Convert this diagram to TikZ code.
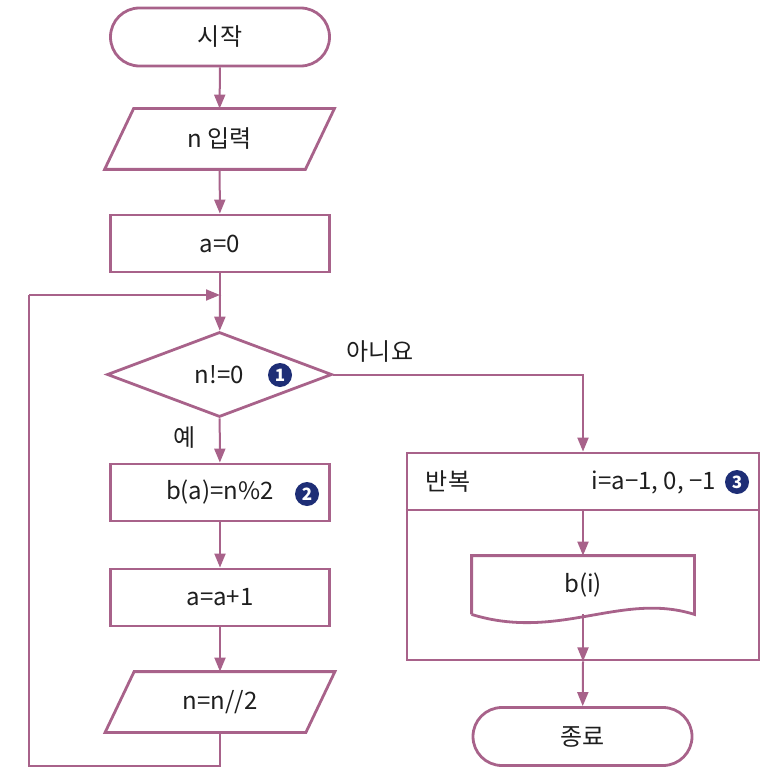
\documentclass[tikz,border=0pt]{standalone}
\usepackage{fontspec}
\setmainfont{Noto Sans CJK KR}
\usetikzlibrary{shapes.geometric,arrows.meta}

\definecolor{flowline}{RGB}{168,98,138}
\definecolor{marknavy}{RGB}{30,46,118}
\definecolor{flowtext}{RGB}{30,30,30}

\tikzset{
	box/.style={draw=flowline, line width=2.8pt, text=flowtext, inner sep=0pt, font=\fontsize{24}{28}\selectfont},
	terminal/.style={box, rectangle, rounded corners=28.9pt, minimum width=219pt, minimum height=58pt},
	process/.style={box, rectangle, minimum width=219pt, minimum height=57pt},
	inout/.style={box, draw=none, rectangle, minimum width=198pt, minimum height=58pt},
	decision/.style={box, diamond, aspect=2.65, minimum width=225pt, minimum height=85pt},
	badge/.style={circle, fill=marknavy, text=white, inner sep=0pt, minimum size=24pt, font=\fontsize{17}{17}\selectfont\bfseries},
	tag/.style={text=flowtext, inner sep=0pt, font=\fontsize{24}{28}\selectfont},
	edge/.style={draw=flowline, line width=2.8pt},
	wire/.style={draw=flowline, line width=2pt},
	flow/.style={wire, -{Triangle[length=14pt,width=11pt]}}
}

\begin{document}
\begin{tikzpicture}[x=1pt,y=-1pt]
	\useasboundingbox (0,0) rectangle (766,778);

	% left column
	\node [terminal] (start) at (220,37) {시작};
	\node [inout] (input) at (219.5,139) {n 입력};
	\draw [edge] ([xshift=14.5pt]input.north west) -- ([xshift=14.5pt]input.north east)
		-- ([xshift=-14.5pt]input.south east) -- ([xshift=-14.5pt]input.south west) -- cycle;
	\node [process] (init) at (220,243.5) {a=0};
	\coordinate (back) at (220,295);
	\node [decision] (test) at (219.5,374.5) {n!=0};
	\node [badge] (one) at (280,375) {1};
	\node [process] (store) at (220,492.5) {b(a)=n\%2};
	\node [badge] (two) at (307,494) {2};
	\node [process] (incr) at (220,597.5) {a=a+1};
	\node [inout] (halve) at (220,702) {n=n//2};
	\draw [edge] ([xshift=14.5pt]halve.north west) -- ([xshift=14.5pt]halve.north east)
		-- ([xshift=-14.5pt]halve.south east) -- ([xshift=-14.5pt]halve.south west) -- cycle;

	\node [tag] (yes) at (185,438) {예};
	\node [tag] (no) at (380,352) {아니요};

	% repeat block
	\node [box, rectangle, minimum width=352pt, minimum height=207pt] (loop) at (583,556.5) {};
	\coordinate (head) at (583,510);
	\node [tag] (rep) at (448,482) {반복};
	\node [tag, anchor=east] (range) at (716,482) {i=a−1, 0, −1};
	\node [badge] (three) at (737,482) {3};
	\node [box, draw=none, minimum width=220pt, minimum height=56pt] (doc) at (583,585) {b(i)};
	\draw [edge] (doc.south west) -- (doc.north west) -- (doc.north east) -- (doc.south east)
		.. controls +(-73,-23) and +(87,27) .. (doc.south west);
	\node [terminal] (finish) at (582.5,736.5) {종료};

	% connectors
	\draw [flow] (start) -- (input);
	\draw [flow] (input) -- (init);
	\draw [wire] (init) -- (back);
	\draw [flow] (back) -- (test);
	\draw [flow] (test) -- (store);
	\draw [flow] (store) -- (incr);
	\draw [flow] (incr) -- (halve);

	\coordinate (turnA) at (220,766);
	\coordinate (turnB) at (29,766);
	\coordinate (turnC) at (29,295);
	\draw [wire] (halve) -- (turnA) -- (turnB) -- (turnC);
	\draw [flow] (turnC) -- (back);

	\draw [flow] (test.east) -| (loop.north);
	\draw [edge] (loop.west |- head) -- (loop.east |- head);
	\draw [flow] (head) -- (doc.north);
	\draw [flow] (doc.south) -- (loop.south);
	\draw [flow] (loop.south) -- (finish);
\end{tikzpicture}
\end{document}
